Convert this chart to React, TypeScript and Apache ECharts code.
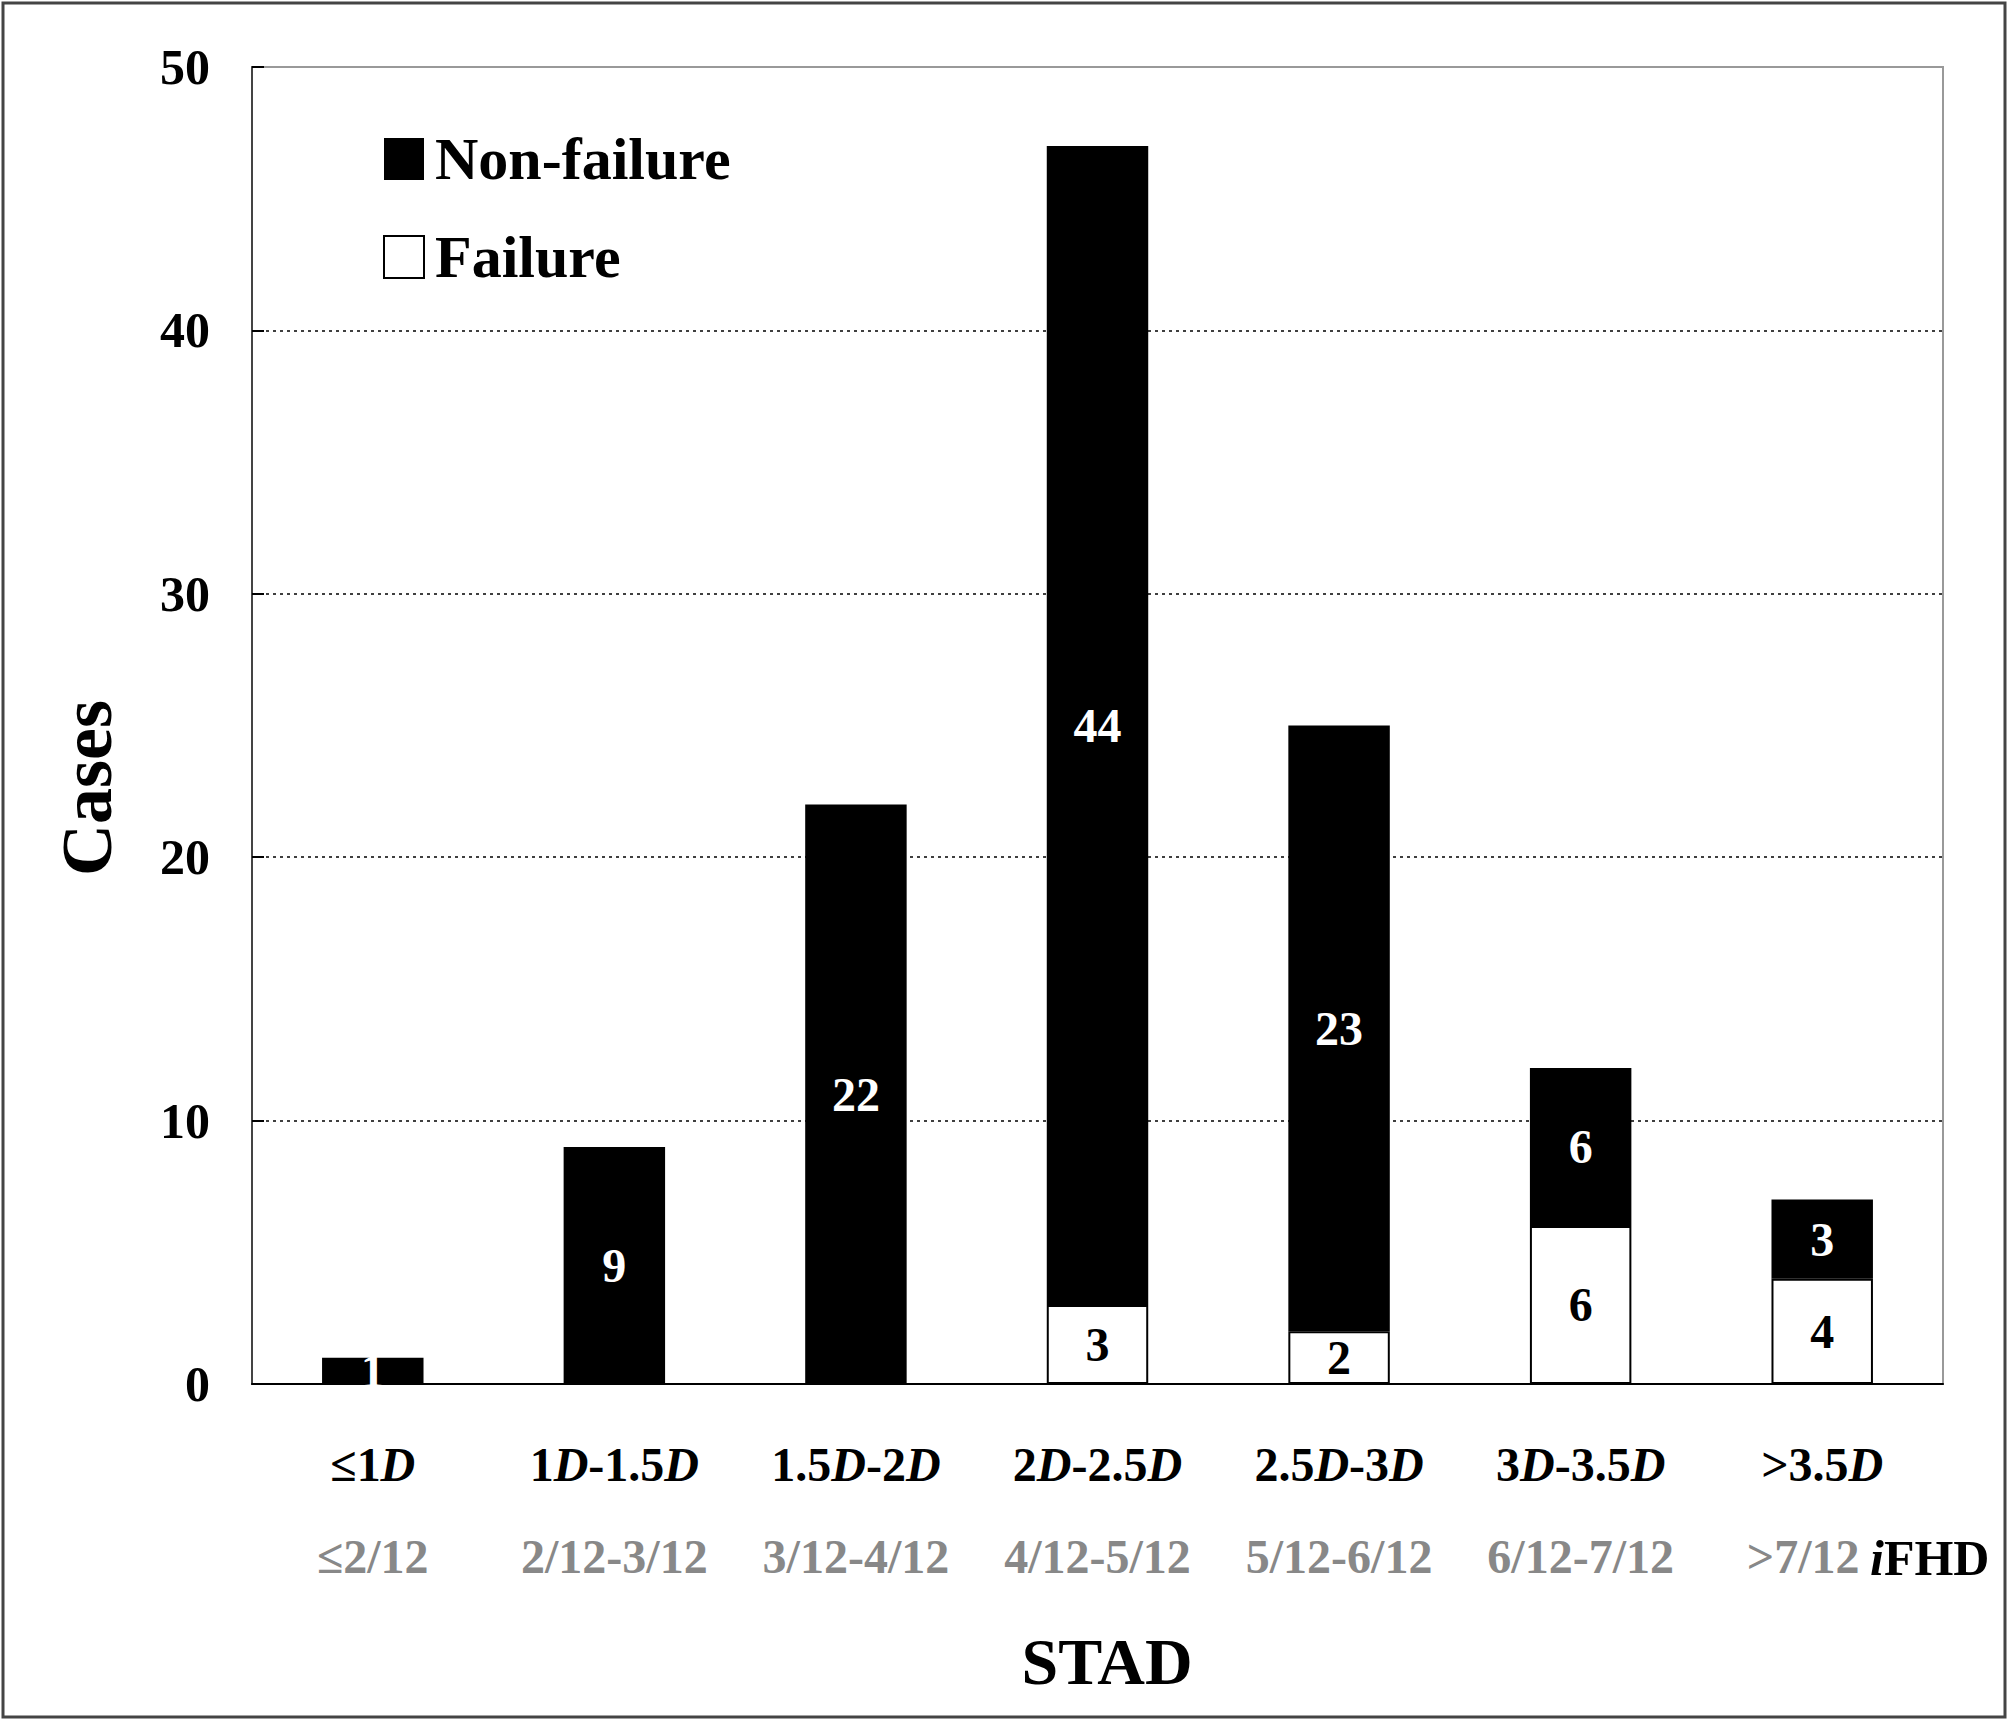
import React, { useEffect, useRef } from "react";
import * as echarts from "echarts";

const categories = ["≤1D", "1D-1.5D", "1.5D-2D", "2D-2.5D", "2.5D-3D", "3D-3.5D", ">3.5D"];
const fhdLabels = ["≤2/12", "2/12-3/12", "3/12-4/12", "4/12-5/12", "5/12-6/12", "6/12-7/12", ">7/12"];
const nonFailure = [1, 9, 22, 44, 23, 6, 3];
const failure: (number | string)[] = ["-", "-", "-", 3, 2, 6, 4];
const yTicks = { min: 0, max: 50, interval: 10 };

const FONT = "Liberation Serif";

function catLabel(value: string, index: number): string {
  const parts = value.split("D");
  let s = "";
  parts.forEach((p, i) => {
    if (p) s += "{b|" + p + "}";
    if (i < parts.length - 1) s += "{i|D}";
  });
  const g = index === fhdLabels.length - 1 ? "gl" : "g";
  return s + "\n{" + g + "|" + fhdLabels[index] + "}";
}

export default function App() {
  const ref = useRef<HTMLDivElement>(null);
  useEffect(() => {
    if (!ref.current) return;
    const chart = echarts.init(ref.current, null, { renderer: "svg" });
    const base = { fontFamily: FONT, fontWeight: "bold" as const, fontSize: 48, lineHeight: 92 };
    chart.setOption({
      animation: false,
      backgroundColor: "#fff",
      grid: { left: 252, right: 65, top: 67, bottom: 337, show: true, borderColor: "#999", borderWidth: 2 },
      legend: {
        orient: "vertical",
        left: 378,
        top: 124,
        icon: "rect",
        itemWidth: 40,
        itemHeight: 42,
        itemGap: 38,
        data: ["Non-failure", "Failure"],
        textStyle: { fontFamily: FONT, fontWeight: "bold", fontSize: 60, color: "#000", padding: [0, 0, 0, 6] },
      },
      xAxis: {
        type: "category",
        data: categories,
        axisLine: { lineStyle: { color: "#000", width: 2 } },
        axisTick: { inside: true, length: 15, lineStyle: { color: "#000", width: 2 } },
        axisLabel: {
          interval: 0,
          margin: 34,
          formatter: catLabel,
          rich: {
            b: { ...base, color: "#000" },
            i: { ...base, fontStyle: "italic", color: "#000" },
            g: { ...base, color: "#888" },
            gl: { ...base, color: "#888", padding: [0, 38, 0, 0] },
          },
        },
      },
      yAxis: {
        type: "value",
        min: yTicks.min,
        max: yTicks.max,
        interval: yTicks.interval,
        axisLine: { show: true, lineStyle: { color: "#444", width: 2 } },
        axisTick: { show: true, inside: true, length: 12, lineStyle: { color: "#000", width: 2 } },
        axisLabel: { margin: 42, fontFamily: FONT, fontWeight: "bold", fontSize: 50, color: "#000" },
        splitLine: {
          show: true,
          showMinLine: false,
          showMaxLine: false,
          lineStyle: { color: "#000", width: 1.5, type: [3, 4] },
        },
      },
      series: [
        {
          name: "Failure",
          type: "bar",
          stack: "total",
          barWidth: "42%",
          data: failure,
          itemStyle: { color: "#fff", borderColor: "#000", borderWidth: 2 },
          label: {
            show: true,
            position: "inside",
            color: "#000",
            fontFamily: FONT,
            fontWeight: "bold",
            fontSize: 48,
          },
        },
        {
          name: "Non-failure",
          type: "bar",
          stack: "total",
          barWidth: "42%",
          data: nonFailure,
          itemStyle: { color: "#000" },
          label: {
            show: true,
            position: "inside",
            color: "#fff",
            fontFamily: FONT,
            fontWeight: "bold",
            fontSize: 48,
          },
        },
      ],
      graphic: [
        {
          type: "rect",
          shape: { x: 3, y: 3, width: 2002, height: 1714 },
          style: { fill: "none", stroke: "#444", lineWidth: 3 },
          silent: true,
        },
        {
          type: "text",
          x: 87,
          y: 788,
          rotation: Math.PI / 2,
          style: {
            text: "Cases",
            fontFamily: FONT,
            fontWeight: "bold",
            fontSize: 72,
            fill: "#000",
            align: "center",
            verticalAlign: "middle",
          },
        },
        {
          type: "text",
          x: 1107,
          y: 1661,
          style: {
            text: "STAD",
            fontFamily: FONT,
            fontWeight: "bold",
            fontSize: 66,
            fill: "#000",
            align: "center",
            verticalAlign: "middle",
          },
        },
        {
          type: "text",
          x: 1870,
          y: 1558,
          style: {
            rich: {
              it: { fontFamily: FONT, fontWeight: "bold", fontStyle: "italic", fontSize: 50, fill: "#000" },
              n: { fontFamily: FONT, fontWeight: "bold", fontSize: 50, fill: "#000" },
            },
            text: "{it|i}{n|FHD}",
            align: "left",
            verticalAlign: "middle",
          },
        },
      ],
    });
    return () => chart.dispose();
  }, []);
  return (
    <div
      ref={ref}
      style={{ position: "fixed", left: 0, top: 0, width: 2008, height: 1721, background: "#fff" }}
    />
  );
}
